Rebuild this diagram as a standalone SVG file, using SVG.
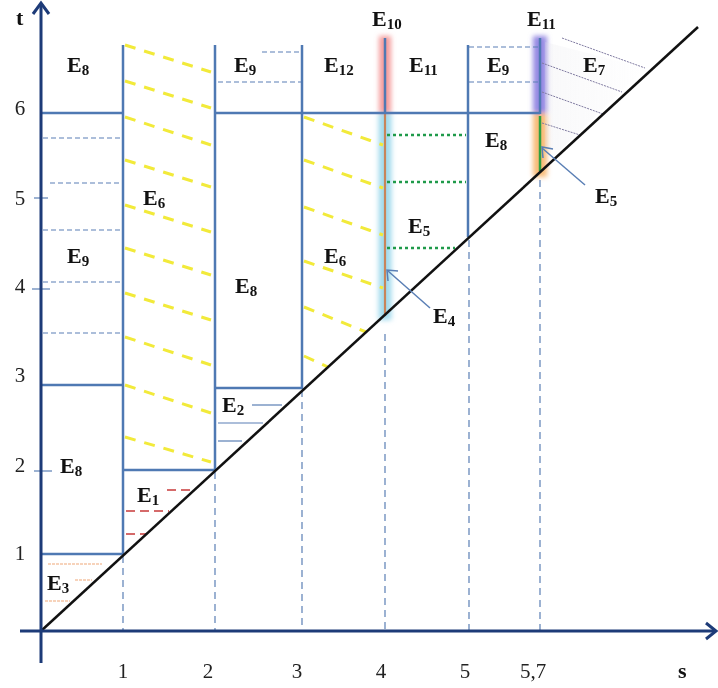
<svg xmlns="http://www.w3.org/2000/svg" width="718" height="688" viewBox="0 0 718 688">
<defs>
<style>
.ax{stroke:#1d3b78;stroke-width:3;fill:none}
.bl{stroke:#4f79b3;stroke-width:2.5;fill:none}
.dv{stroke:#5a7fb5;stroke-width:1.2;stroke-dasharray:7 5;fill:none}
.dh{stroke:#5a7fb5;stroke-width:1.2;stroke-dasharray:5 3;fill:none}
.yl{stroke:#f2ea3a;stroke-width:3;stroke-dasharray:11 9;fill:none}
.rd{stroke:#c83a3a;stroke-width:1.6;stroke-dasharray:9 5;fill:none}
.tb{stroke:#5a7fb5;stroke-width:1.2;fill:none}
.or{stroke:#f0a878;stroke-width:1.2;stroke-dasharray:3 1;fill:none}
.gr{stroke:#1f9a4a;stroke-width:2.5;stroke-dasharray:3 3;fill:none}
.hat{stroke:#7f7aa0;stroke-width:1;stroke-dasharray:2 1;fill:none}
.lb{font-family:"Liberation Serif","Times New Roman",serif;font-weight:bold;font-size:22px;fill:#111}
.sb{font-size:15px}
.tk{font-family:"Liberation Serif","Times New Roman",serif;font-size:21px;fill:#222}
.ptr{stroke:#5a7fb5;stroke-width:1.5;fill:none}
</style>
<filter id="glow" x="-0.1" y="-0.1" width="1.2" height="1.2"><feGaussianBlur stdDeviation="2.5"/></filter>
<linearGradient id="fade" x1="0" y1="0" x2="1" y2="0">
<stop offset="0" stop-color="#e4e4ea" stop-opacity="0.8"/>
<stop offset="1" stop-color="#e4e4ea" stop-opacity="0"/>
</linearGradient>
</defs>

<g id="glows" filter="url(#glow)">
<line x1="385" y1="36" x2="385" y2="113" stroke="#f28c8c" stroke-width="12" opacity="0.85"/>
<line x1="385" y1="113" x2="385" y2="320" stroke="#9ad8ec" stroke-width="13" opacity="0.9"/>
<line x1="540" y1="36" x2="540" y2="113" stroke="#8a7ee0" stroke-width="14" opacity="0.9"/>
<line x1="540" y1="113" x2="540" y2="177" stroke="#f7b060" stroke-width="14" opacity="0.85"/>
</g>

<g id="hatching">
<g id="yellow-left">
<line class="yl" x1="125" y1="45" x2="211" y2="72"/>
<line class="yl" x1="125" y1="81" x2="211" y2="108"/>
<line class="yl" x1="125" y1="117" x2="211" y2="145"/>
<line class="yl" x1="125" y1="160" x2="211" y2="187"/>
<line class="yl" x1="125" y1="205" x2="211" y2="232"/>
<line class="yl" x1="125" y1="248" x2="211" y2="275"/>
<line class="yl" x1="125" y1="293" x2="211" y2="320"/>
<line class="yl" x1="125" y1="337" x2="211" y2="365"/>
<line class="yl" x1="125" y1="385" x2="211" y2="413"/>
<line class="yl" x1="125" y1="437" x2="211" y2="462"/>
</g>
<g id="yellow-right">
<line class="yl" x1="304" y1="117" x2="383" y2="145"/>
<line class="yl" x1="304" y1="160" x2="383" y2="188"/>
<line class="yl" x1="304" y1="207" x2="383" y2="235"/>
<line class="yl" x1="304" y1="261" x2="383" y2="288"/>
<line class="yl" x1="304" y1="307" x2="366" y2="332"/>
<line class="yl" x1="304" y1="356" x2="328" y2="367"/>
</g>
<g id="e1-red">
<line class="rd" x1="167" y1="490" x2="193" y2="490"/>
<line class="rd" x1="126" y1="511" x2="169" y2="511"/>
<line class="rd" x1="126" y1="534" x2="146" y2="534"/>
</g>
<g id="e2-blue">
<line class="tb" x1="252" y1="405" x2="282" y2="405"/>
<line class="tb" x1="218" y1="423" x2="263" y2="423"/>
<line class="tb" x1="218" y1="441" x2="242" y2="441"/>
</g>
<g id="e3-orange">
<line class="or" x1="48" y1="564" x2="102" y2="564"/>
<line class="or" x1="75" y1="580" x2="92" y2="580"/>
<line class="or" x1="45" y1="601" x2="70" y2="601"/>
</g>
<g id="e5-green">
<line class="gr" x1="387" y1="135" x2="466" y2="135"/>
<line class="gr" x1="387" y1="182" x2="466" y2="182"/>
<line class="gr" x1="387" y1="248" x2="455" y2="248"/>
</g>
<g id="e7-hatch">
<polygon points="545,42 645,68 560,150 545,150" fill="url(#fade)" opacity="0.3"/>
<line class="hat" x1="562" y1="38" x2="645" y2="68"/>
<line class="hat" x1="542" y1="63" x2="622" y2="92"/>
<line class="hat" x1="542" y1="92" x2="603" y2="114"/>
<line class="hat" x1="542" y1="123" x2="580" y2="135"/>
</g>
<g id="dashed-horizontal">
<line class="dh" x1="43" y1="138" x2="121" y2="138"/>
<line class="dh" x1="50" y1="183" x2="121" y2="183"/>
<line class="dh" x1="43" y1="230" x2="121" y2="230"/>
<line class="dh" x1="43" y1="282" x2="121" y2="282"/>
<line class="dh" x1="43" y1="333" x2="121" y2="333"/>
<line class="dh" x1="262" y1="52" x2="301" y2="52"/>
<line class="dh" x1="218" y1="82" x2="301" y2="82"/>
<line class="dh" x1="469" y1="47" x2="538" y2="47"/>
<line class="dh" x1="469" y1="82" x2="538" y2="82"/>
</g>
</g>

<g id="connectors">
<g id="dashed-verticals">
<line class="dv" x1="123" y1="556" x2="123" y2="630"/>
<line class="dv" x1="215" y1="472" x2="215" y2="630"/>
<line class="dv" x1="302" y1="390" x2="302" y2="630"/>
<line class="dv" x1="385" y1="334" x2="385" y2="630"/>
<line class="dv" x1="469" y1="240" x2="469" y2="630"/>
<line class="dv" x1="540" y1="180" x2="540" y2="630"/>
</g>
<g id="boundaries">
<line class="bl" x1="123" y1="45" x2="123" y2="555"/>
<line class="bl" x1="215" y1="45" x2="215" y2="471"/>
<line class="bl" x1="302" y1="45" x2="302" y2="389"/>
<line class="bl" x1="385" y1="38" x2="385" y2="113"/>
<line x1="385" y1="113" x2="385" y2="316" stroke="#c8845a" stroke-width="2.2"/>
<line class="bl" x1="468" y1="45" x2="468" y2="237"/>
<line class="bl" x1="540" y1="38" x2="540" y2="114"/>
<line x1="540" y1="116" x2="540" y2="171" stroke="#2fa040" stroke-width="2.5"/>
<line class="bl" x1="41" y1="113" x2="123" y2="113"/>
<line class="bl" x1="215" y1="113" x2="540" y2="113"/>
<line class="bl" x1="41" y1="385" x2="123" y2="385"/>
<line class="bl" x1="41" y1="554" x2="123" y2="554"/>
<line class="bl" x1="123" y1="470" x2="215" y2="470"/>
<line class="bl" x1="215" y1="388" x2="302" y2="388"/>
</g>
<g id="ticks">
<line class="tb" x1="34" y1="198" x2="48" y2="198"/>
<line class="tb" x1="32" y1="289" x2="50" y2="289"/>
<line class="tb" x1="34" y1="471" x2="52" y2="471"/>
</g>
<line id="diagonal" x1="41" y1="631" x2="698" y2="27" stroke="#111" stroke-width="2.5"/>
<g id="axes">
<line class="ax" x1="41" y1="4" x2="41" y2="663"/>
<line class="ax" x1="20" y1="631" x2="716" y2="631"/>
<polyline class="ax" points="33,14 41,3 49,14"/>
<polyline class="ax" points="706,623 716,631 706,639"/>
</g>
<g id="pointers">
<line class="ptr" x1="430" y1="308" x2="388" y2="271"/>
<polyline class="ptr" points="388,281 387,270 398,271"/>
<line class="ptr" x1="585" y1="185" x2="542" y2="148"/>
<polyline class="ptr" points="543,158 542,147 553,149"/>
</g>
</g>

<g id="axis-labels">
<text class="lb" x="16" y="25">t</text>
<text class="lb" x="678" y="678">s</text>
<text class="tk" x="20" y="115" text-anchor="middle">6</text>
<text class="tk" x="20" y="205" text-anchor="middle">5</text>
<text class="tk" x="20" y="293" text-anchor="middle">4</text>
<text class="tk" x="20" y="382" text-anchor="middle">3</text>
<text class="tk" x="20" y="472" text-anchor="middle">2</text>
<text class="tk" x="20" y="560" text-anchor="middle">1</text>
<text class="tk" x="123" y="678" text-anchor="middle">1</text>
<text class="tk" x="208" y="678" text-anchor="middle">2</text>
<text class="tk" x="297" y="678" text-anchor="middle">3</text>
<text class="tk" x="381" y="678" text-anchor="middle">4</text>
<text class="tk" x="465" y="678" text-anchor="middle">5</text>
<text class="tk" x="533" y="678" text-anchor="middle">5,7</text>
</g>

<g id="region-labels">
<g id="n-e8a"><text class="lb" x="67" y="72">E<tspan class="sb" dy="3">8</tspan></text></g>
<g id="n-e6a"><text class="lb" x="143" y="205">E<tspan class="sb" dy="3">6</tspan></text></g>
<g id="n-e9a"><text class="lb" x="234" y="72">E<tspan class="sb" dy="3">9</tspan></text></g>
<g id="n-e12"><text class="lb" x="324" y="72">E<tspan class="sb" dy="3">12</tspan></text></g>
<g id="n-e11a"><text class="lb" x="409" y="72">E<tspan class="sb" dy="3">11</tspan></text></g>
<g id="n-e10"><text class="lb" x="372" y="26">E<tspan class="sb" dy="3">10</tspan></text></g>
<g id="n-e11b"><text class="lb" x="527" y="26">E<tspan class="sb" dy="3">11</tspan></text></g>
<g id="n-e9b"><text class="lb" x="487" y="72">E<tspan class="sb" dy="3">9</tspan></text></g>
<g id="n-e7"><text class="lb" x="583" y="72">E<tspan class="sb" dy="3">7</tspan></text></g>
<g id="n-e8b"><text class="lb" x="485" y="147">E<tspan class="sb" dy="3">8</tspan></text></g>
<g id="n-e5a"><text class="lb" x="408" y="233">E<tspan class="sb" dy="3">5</tspan></text></g>
<g id="n-e6b"><text class="lb" x="324" y="263">E<tspan class="sb" dy="3">6</tspan></text></g>
<g id="n-e8c"><text class="lb" x="235" y="293">E<tspan class="sb" dy="3">8</tspan></text></g>
<g id="n-e9c"><text class="lb" x="67" y="263">E<tspan class="sb" dy="3">9</tspan></text></g>
<g id="n-e4"><text class="lb" x="433" y="323">E<tspan class="sb" dy="3">4</tspan></text></g>
<g id="n-e5b"><text class="lb" x="595" y="203">E<tspan class="sb" dy="3">5</tspan></text></g>
<g id="n-e2"><text class="lb" x="222" y="412">E<tspan class="sb" dy="3">2</tspan></text></g>
<g id="n-e8d"><text class="lb" x="60" y="473">E<tspan class="sb" dy="3">8</tspan></text></g>
<g id="n-e1"><text class="lb" x="137" y="502">E<tspan class="sb" dy="3">1</tspan></text></g>
<g id="n-e3"><text class="lb" x="47" y="590">E<tspan class="sb" dy="3">3</tspan></text></g>
</g>
</svg>
